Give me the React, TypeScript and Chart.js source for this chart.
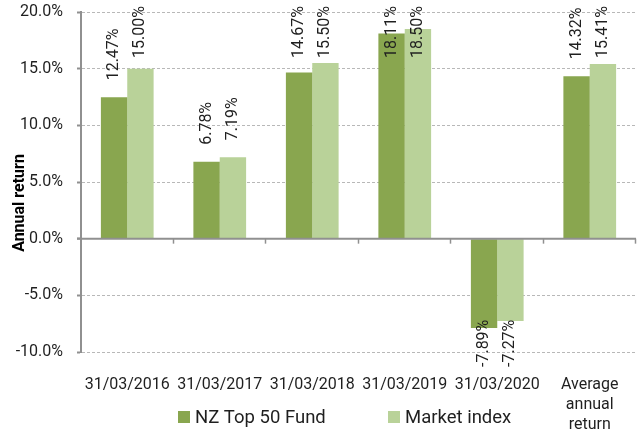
import React, { useEffect, useRef } from "react";
import { Chart, registerables } from "chart.js";

Chart.register(...registerables);

const categories: (string | string[])[] = [
  "31/03/2016",
  "31/03/2017",
  "31/03/2018",
  "31/03/2019",
  "31/03/2020",
  ["Average", "annual", "return"],
];
const fundValues = [12.47, 6.78, 14.67, 18.11, -7.89, 14.32];
const marketValues = [15.0, 7.19, 15.5, 18.5, -7.27, 15.41];
const seriesNames = ["NZ Top 50 Fund", "Market index"];
const seriesColors = ["#89a64f", "#b9d299"];
const yAxisTitle = "Annual return";
const yMin = -10;
const yMax = 20;
const yStep = 5;

const FONT = "Roboto, 'Noto Sans', sans-serif";
const TEXT = "#1f1f1f";
const AXIS = "#909090";

const customPlugin = {
  id: "custom",
  afterDraw(chart: any) {
    const { ctx, chartArea, scales } = chart;
    const y = scales.y;
    const y0 = y.getPixelForValue(0);

    // zero axis line with category separators
    ctx.save();
    ctx.strokeStyle = AXIS;
    ctx.lineWidth = 2;
    ctx.beginPath();
    ctx.moveTo(chartArea.left - 4, y0);
    ctx.lineTo(chartArea.right, y0);
    ctx.stroke();
    const n = categories.length;
    const w = (chartArea.right - chartArea.left) / n;
    ctx.lineWidth = 1.5;
    for (let i = 1; i <= n; i++) {
      const xx = Math.round(chartArea.left + i * w) - 0.5;
      ctx.beginPath();
      ctx.moveTo(xx, y0);
      ctx.lineTo(xx, y0 + 5);
      ctx.stroke();
    }
    ctx.restore();

    // data labels
    ctx.save();
    ctx.font = `16px ${FONT}`;
    ctx.fillStyle = TEXT;
    ctx.textBaseline = "middle";
    ctx.textAlign = "left";
    chart.data.datasets.forEach((ds: any, di: number) => {
      const meta = chart.getDatasetMeta(di);
      meta.data.forEach((bar: any, i: number) => {
        const v = ds.data[i];
        const label = v.toFixed(2) + "%";
        const tw = ctx.measureText(label).width;
        let startY: number;
        if (v >= 0) {
          startY = bar.y - 17;
          if (startY - tw < 6) startY = 6 + tw;
        } else {
          startY = bar.y + 17 + tw;
          if (startY > 367) startY = 367;
        }
        ctx.save();
        ctx.translate(bar.x, startY);
        ctx.rotate(-Math.PI / 2);
        ctx.fillText(label, 0, 0);
        ctx.restore();
      });
    });
    ctx.restore();

    // y axis title
    ctx.save();
    ctx.font = `bold 16px ${FONT}`;
    ctx.fillStyle = "#000";
    ctx.textAlign = "center";
    ctx.textBaseline = "middle";
    ctx.translate(20, 203);
    ctx.rotate(-Math.PI / 2);
    ctx.fillText(yAxisTitle, 0, 0);
    ctx.restore();

    // legend
    ctx.save();
    ctx.font = `18.5px ${FONT}`;
    ctx.textBaseline = "middle";
    ctx.textAlign = "left";
    const legendX = [178, 388];
    seriesNames.forEach((name, i) => {
      ctx.fillStyle = seriesColors[i];
      ctx.fillRect(legendX[i], 411, 12, 12);
      ctx.fillStyle = TEXT;
      ctx.fillText(name, legendX[i] + 17, 418);
    });
    ctx.restore();
  },
};

export default function App() {
  const ref = useRef<HTMLCanvasElement>(null);
  useEffect(() => {
    document.body.style.margin = "0";
    if (!ref.current) return;
    const chart = new Chart(ref.current, {
      type: "bar",
      data: {
        labels: categories,
        datasets: [
          {
            label: seriesNames[0],
            data: fundValues,
            backgroundColor: seriesColors[0],
            categoryPercentage: 0.57,
            barPercentage: 1,
          },
          {
            label: seriesNames[1],
            data: marketValues,
            backgroundColor: seriesColors[1],
            categoryPercentage: 0.57,
            barPercentage: 1,
          },
        ],
      },
      options: {
        responsive: false,
        animation: false,
        layout: { padding: { top: 12, right: 4, left: 0, bottom: 0 } },
        plugins: {
          legend: { display: false },
          tooltip: { enabled: false },
        },
        scales: {
          x: {
            grid: { display: false, drawTicks: false },
            border: { display: false },
            ticks: {
              color: TEXT,
              font: { family: FONT, size: 16, lineHeight: 1.25 },
              padding: 23,
              maxRotation: 0,
              autoSkip: false,
            },
            afterFit(scale: any) {
              scale.height = 80;
              scale.paddingLeft = 0;
              scale.paddingRight = 0;
            },
          },
          y: {
            min: yMin,
            max: yMax,
            grid: {
              color: (c: any) => (c.tick && c.tick.value === 0 ? "rgba(0,0,0,0)" : "#b8b8b8"),
              lineWidth: 1,
              drawTicks: true,
              tickLength: 4,
              tickColor: AXIS,
              tickWidth: 2,
            },
            border: { display: true, color: AXIS, width: 2, dash: [3, 2] },
            ticks: {
              stepSize: yStep,
              color: TEXT,
              font: { family: FONT, size: 16 },
              padding: 14,
              callback: (v: any) => Number(v).toFixed(1) + "%",
            },
            afterFit(scale: any) {
              scale.width = 81;
              scale.paddingTop = 0;
              scale.paddingBottom = 0;
            },
          },
        },
      },
      plugins: [customPlugin],
    });
    return () => chart.destroy();
  }, []);
  return (
    <div style={{ width: 640, height: 432 }}>
      <canvas ref={ref} width={640} height={432} style={{ display: "block" }} />
    </div>
  );
}
